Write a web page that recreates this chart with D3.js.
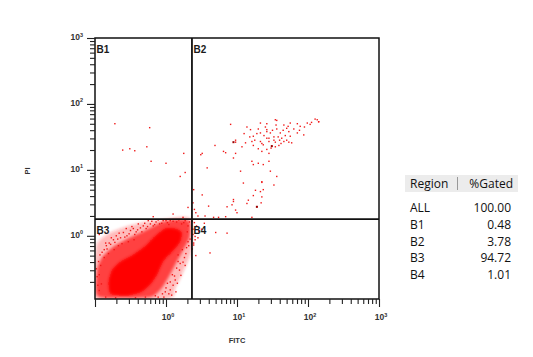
<!DOCTYPE html>
<html><head><meta charset="utf-8">
<script src="https://cdn.jsdelivr.net/npm/d3@7/dist/d3.min.js"></script>
<style>body{margin:0;background:#fff}svg{display:block}</style>
</head><body>
<svg id="c" width="533" height="357"></svg>
<script>
// ---- data (log10 FITC, log10 PI) ----
const xDomain = [0.1, 1000];
const yDomain = [0.11, 1000];
const majorTicks = [0.1, 1, 10, 100, 1000];
const gateFITC = 2.32;
const gatePI = 1.79;
const quadrantNames = ["B1", "B2", "B3", "B4"];
const tableRegions = ["ALL", "B1", "B2", "B3", "B4"];
const tableGated = ["100.00", "0.48", "3.78", "94.72", "1.01"];
const axisTitleX = "FITC";
const axisTitleY = "PI";

// density contours of the main (B3) population
const densityOuter = [[-0.99,-0.95],[-0.99,-0.21],[-0.93,-0.06],[-0.76,0.06],[-0.53,0.15],[-0.29,0.21],[-0.08,0.24],[0.34,0.26],[0.36,-0.21],[0.24,-0.55],[0.13,-0.79],[0.03,-0.95]];
const densityMid = [[-0.97,-0.91],[-0.97,-0.52],[-0.90,-0.33],[-0.76,-0.18],[-0.57,-0.06],[-0.39,0.03],[-0.22,0.12],[-0.05,0.21],[0.13,0.24],[0.29,0.24],[0.34,0.18],[0.33,-0.03],[0.23,-0.24],[0.13,-0.44],[0.03,-0.64],[-0.08,-0.82],[-0.22,-0.93],[-0.64,-0.94]];
const densityCore = [[-0.78,-0.88],[-0.81,-0.70],[-0.76,-0.52],[-0.64,-0.39],[-0.47,-0.29],[-0.29,-0.15],[-0.15,0.00],[-0.01,0.11],[0.13,0.11],[0.22,0.05],[0.20,-0.09],[0.09,-0.24],[-0.04,-0.39],[-0.12,-0.58],[-0.22,-0.74],[-0.36,-0.86],[-0.57,-0.91]];

// fringe events around the main population
const clusterEvents = [[-0.95,-0.39],[-0.93,-0.29],[-0.87,-0.21],[-0.84,-0.15],[-0.80,-0.11],[-0.74,-0.06],[-0.70,0.00],[-0.64,-0.03],[-0.60,0.05],[-0.55,0.00],[-0.50,0.08],[-0.46,0.11],[-0.42,0.06],[-0.36,0.12],[-0.32,0.15],[-0.28,0.11],[-0.22,0.18],[-0.18,0.15],[-0.14,0.21],[-0.09,0.18],[-0.04,0.23],[0.02,0.20],[0.06,0.23],[-0.87,-0.33],[-0.81,-0.27],[-0.73,-0.21],[-0.67,-0.15],[-0.62,-0.12],[-0.53,-0.09],[-0.45,-0.06],[-0.94,-0.59],[-0.91,-0.73],[-0.94,-0.83],[-0.77,-0.03],[-0.56,0.11],[-0.39,0.18],[-0.25,0.23],[0.15,0.21],[0.22,0.18],[0.27,0.23],[0.31,0.15],[0.17,-0.29],[0.23,-0.21],[0.29,-0.18],[0.26,-0.33],[0.15,-0.49],[0.20,-0.42],[0.09,-0.59],[0.06,-0.70],[0.00,-0.79],[-0.05,-0.88],[-0.11,-0.93],[0.06,-0.82],[0.13,-0.67],[0.31,-0.09],[0.30,0.06],[0.17,-0.39],[-0.01,-0.85],[-0.15,-0.91],[-0.29,-0.93],[-0.43,-0.94],[-0.71,-0.94],[-0.85,-0.93],[-0.94,0.02],[-0.85,-0.11],
[-0.92,-0.45],[-0.90,-0.25],[-0.83,-0.20],[-0.78,-0.13],[-0.72,-0.10],[-0.68,-0.05],[-0.66,0.04],[-0.58,-0.02],[-0.52,0.03],[-0.48,0.14],[-0.44,0.02],[-0.40,0.09],[-0.34,0.06],[-0.30,0.19],[-0.26,0.14],[-0.20,0.22],[-0.16,0.17],[-0.11,0.24],[-0.06,0.19],[0.00,0.23],[0.04,0.17],[0.10,0.22],[0.18,0.24],[0.25,0.20],[0.33,0.21],[-0.97,-0.62],[-0.96,-0.75],[-0.98,-0.50],
[0.32,-0.15],[0.28,-0.27],[0.24,-0.40],[0.19,-0.52],[0.12,-0.61],[0.10,-0.75],[0.04,-0.88],[-0.03,-0.93],[0.21,-0.60],[0.16,-0.72],[0.27,-0.45],[0.34,-0.05],[0.08,-0.90],[0.14,-0.85],[0.02,-0.72]];

// sparse events in B1, B2, B4
const sparseEvents = [[-0.72,1.70],[-0.23,1.64],[-0.61,1.30],[-0.51,1.32],[-0.44,1.29],[-0.27,1.35],[-0.21,1.13],[0.00,1.10],[0.25,1.25],[0.27,0.96],[0.20,0.90],[0.31,0.43],[0.24,0.28],[0.10,0.33],[-0.18,0.29],
[0.91,1.69],[1.14,1.65],[1.19,1.61],[1.33,1.71],[1.42,1.70],[1.56,1.75],[1.66,1.68],[1.75,1.71],[1.85,1.70],[1.99,1.71],[2.03,1.69],[2.13,1.76],[2.15,1.73],[1.42,1.61],[1.56,1.62],[1.70,1.63],[1.89,1.66],[1.33,1.56],[1.47,1.56],[1.61,1.56],[1.73,1.58],[1.85,1.56],[1.94,1.53],[1.23,1.51],[1.42,1.48],[1.52,1.50],[1.63,1.48],[1.75,1.51],[1.21,1.43],[1.33,1.43],[1.45,1.43],[1.54,1.42],[1.66,1.43],[1.73,1.42],[1.77,1.41],[1.12,1.41],[1.07,1.35],[1.23,1.37],[1.37,1.38],[1.49,1.36],[1.59,1.37],[1.30,1.32],[1.42,1.31],[1.54,1.35],[1.35,1.28],[1.45,1.25],[0.98,1.45],[0.98,1.42],[0.84,1.26],[0.69,1.37],[0.51,1.25],[0.98,1.25],[0.95,1.18],[1.21,1.13],[1.30,1.10],[1.37,1.08],[1.45,1.13],[1.23,1.08],[0.58,1.03],[1.05,0.98],[1.47,0.98],[1.35,0.82],[1.52,0.77],[1.56,0.90],[1.09,0.80],[1.37,0.70],[1.33,0.67],[1.26,0.69],[1.23,0.61],[1.16,0.54],[1.35,0.59],[1.34,0.50],[1.14,0.49],[1.28,0.44],[0.95,0.55],[0.93,0.47],[0.86,0.44],[0.98,0.39],[1.00,0.35],[0.67,0.28],[0.74,0.28],[0.51,0.62],[1.21,0.28],[0.39,0.70],[0.49,1.23],[0.81,1.28],[0.95,0.52],[1.35,0.81],[1.54,1.76],[2.10,1.77],[2.15,1.73],
[1.28,1.55],[1.38,1.52],[1.50,1.60],[1.60,1.45],[1.68,1.52],[1.80,1.62],[1.55,1.68],[1.40,1.65],[1.25,1.45],[1.45,1.48],[1.62,1.40],[1.70,1.45],[1.35,1.40],[1.48,1.33],[1.58,1.50],[1.88,1.60],[1.95,1.65],[2.05,1.72],[1.18,1.50],[1.30,1.62],[1.65,1.60],[1.52,1.45],[1.42,1.58],[1.72,1.66],[1.10,1.55],
[0.40,0.40],[0.45,0.30],[0.42,0.35],[0.55,0.30],[0.60,0.45],[0.38,0.50],[0.84,0.29],
[0.41,-0.01],[0.46,0.07],[0.62,-0.26],[0.54,0.19],[0.39,-0.11],[0.86,0.04],[0.41,-0.06],[0.39,-0.14],[0.38,0.10],[0.40,0.20],[0.43,0.15],[0.37,-0.20],[0.45,-0.03],[0.50,0.10],[0.38,0.02],[0.42,-0.30],[0.70,0.05],[0.37,0.22]];
const darkEvents = [[1.28,0.44],[1.49,1.36],[0.95,1.42]];

// ---- drawing ----
const svg = d3.select("#c");
const x = d3.scaleLog().domain(xDomain).range([95, 379]);
const y = d3.scaleLog().domain(yDomain).range([299, 38]);
const px = d => x(Math.pow(10, d[0]));
const py = d => y(Math.pow(10, d[1]));

const defs = svg.append("defs");
defs.append("clipPath").attr("id", "plotclip").append("rect")
  .attr("x", x(xDomain[0])).attr("y", y(yDomain[1]))
  .attr("width", x(xDomain[1]) - x(xDomain[0])).attr("height", y(yDomain[0]) - y(yDomain[1]));
defs.append("filter").attr("id", "soft").attr("x", "-20%").attr("y", "-20%").attr("width", "140%").attr("height", "140%")
  .append("feGaussianBlur").attr("stdDeviation", 1.8);

const plot = svg.append("g").attr("clip-path", "url(#plotclip)");
const dens = plot.append("g").attr("filter", "url(#soft)");
const line = d3.line().x(px).y(py).curve(d3.curveCardinalClosed.tension(0.3));
dens.append("path").attr("d", line(densityOuter)).attr("fill", "#ff2020").attr("fill-opacity", 0.3);
dens.append("path").attr("d", line(densityMid)).attr("fill", "#ff1010").attr("fill-opacity", 0.7);
dens.append("path").attr("d", line(densityCore)).attr("fill", "#ff0000");

plot.selectAll("rect.ev").data(clusterEvents.concat(sparseEvents)).join("rect")
  .attr("class", "ev").attr("x", d => px(d) - 0.7).attr("y", d => py(d) - 0.7)
  .attr("width", 1.4).attr("height", 1.4).attr("fill", "#f01818");
plot.selectAll("rect.dk").data(darkEvents).join("rect")
  .attr("class", "dk").attr("x", d => px(d) - 1).attr("y", d => py(d) - 1)
  .attr("width", 2).attr("height", 2).attr("fill", "#900");

// quadrant gates
const gx = x(gateFITC), gy = y(gatePI);
svg.append("line").attr("x1", gx).attr("x2", gx).attr("y1", y(yDomain[1])).attr("y2", y(yDomain[0]))
  .attr("stroke", "#111").attr("stroke-width", 1.8);
svg.append("line").attr("x1", x(xDomain[0])).attr("x2", x(xDomain[1])).attr("y1", gy).attr("y2", gy)
  .attr("stroke", "#111").attr("stroke-width", 1.8);

// frame
svg.append("rect").attr("x", x(xDomain[0])).attr("y", y(yDomain[1]))
  .attr("width", x(xDomain[1]) - x(xDomain[0])).attr("height", y(yDomain[0]) - y(yDomain[1]))
  .attr("fill", "none").attr("stroke", "#111").attr("stroke-width", 1.5);

// quadrant labels
const qpos = [[xDomain[0], yDomain[1]], [gateFITC, yDomain[1]], [xDomain[0], gatePI], [gateFITC, gatePI]];
svg.selectAll("text.q").data(quadrantNames).join("text").attr("class", "q")
  .attr("x", (d, i) => x(qpos[i][0]) + 1.5)
  .attr("y", (d, i) => y(qpos[i][1]) + 14.5)
  .attr("font-family", "Liberation Sans, Arial, sans-serif").attr("font-weight", "bold")
  .attr("font-size", 10).attr("fill", "#1a1a1a").text(d => d);

// tick values
function allTicks(dom) {
  const out = [];
  for (let e = -1; e <= 3; e++) for (let m = 1; m <= 9; m++) {
    const v = m * Math.pow(10, e);
    if (v >= dom[0] * 0.999 && v <= dom[1] * 1.001) out.push(v);
  }
  return out;
}
const isMajor = v => majorTicks.some(t => Math.abs(v / t - 1) < 1e-6);
const fmtExp = v => Math.round(Math.log10(v));

const ya = svg.append("g").attr("transform", `translate(${x(xDomain[0])},0)`)
  .call(d3.axisLeft(y).tickValues(allTicks(yDomain)).tickFormat("").tickSizeOuter(0));
ya.select(".domain").remove();
ya.selectAll(".tick line").attr("x2", d => isMajor(d) ? -8 : -5).attr("stroke", "#222").attr("stroke-width", 1.1);

const xa = svg.append("g").attr("transform", `translate(0,${y(yDomain[0])})`)
  .call(d3.axisBottom(x).tickValues(allTicks(xDomain)).tickFormat("").tickSizeOuter(0));
xa.select(".domain").remove();
xa.selectAll(".tick line").attr("y2", d => isMajor(d) ? 8 : 5).attr("stroke", "#222").attr("stroke-width", 1.1);

const labFont = "Liberation Sans, Arial, sans-serif";
// y labels
const yl = svg.selectAll("text.yl").data(majorTicks.filter(v => v >= 1)).join("text").attr("class", "yl")
  .attr("x", x(xDomain[0]) - 12).attr("y", d => y(d) + 2)
  .attr("text-anchor", "end").attr("font-family", labFont).attr("font-weight", "bold")
  .attr("font-size", 8.5).attr("fill", "#333");
yl.append("tspan").text("10");
yl.append("tspan").attr("dy", -3.5).attr("font-size", 5.5).text(d => fmtExp(d));

// x labels
const xl = svg.selectAll("text.xl").data(majorTicks.filter(v => v >= 1)).join("text").attr("class", "xl")
  .attr("x", d => x(d) + 2).attr("y", 320)
  .attr("text-anchor", "middle").attr("font-family", labFont).attr("font-weight", "bold")
  .attr("font-size", 8.5).attr("fill", "#333");
xl.append("tspan").text("10");
xl.append("tspan").attr("dy", -3.5).attr("font-size", 5.5).text(d => fmtExp(d));

// axis titles
svg.append("text").attr("x", 237).attr("y", 343).attr("text-anchor", "middle")
  .attr("font-family", labFont).attr("font-weight", "bold").attr("font-size", 7.5).attr("fill", "#333").text(axisTitleX);
svg.append("text").attr("transform", "translate(29.5,171) rotate(-90)").attr("text-anchor", "middle")
  .attr("font-family", labFont).attr("font-weight", "bold").attr("font-size", 7.5).attr("fill", "#333").text(axisTitleY);

// statistics table
const tf = "Open Sans, Noto Sans, sans-serif";
const tbl = svg.append("g");
tbl.append("rect").attr("x", 405).attr("y", 175).attr("width", 113).attr("height", 17).attr("fill", "#ececec");
tbl.append("line").attr("x1", 457.5).attr("x2", 457.5).attr("y1", 177).attr("y2", 190).attr("stroke", "#999");
tbl.append("text").attr("x", 410).attr("y", 187.5).attr("font-family", tf).attr("font-size", 12).attr("fill", "#111").text("Region");
tbl.append("text").attr("x", 513).attr("y", 187.5).attr("text-anchor", "end").attr("font-family", tf).attr("font-size", 12).attr("fill", "#111").text("%Gated");
tbl.selectAll("text.rn").data(tableRegions).join("text").attr("class", "rn")
  .attr("x", 410).attr("y", (d, i) => 212 + i * 16.8).attr("font-family", tf).attr("font-size", 12).attr("fill", "#111").text(d => d);
tbl.selectAll("text.rv").data(tableGated).join("text").attr("class", "rv")
  .attr("x", 511).attr("y", (d, i) => 212 + i * 16.8).attr("text-anchor", "end").attr("font-family", tf).attr("font-size", 12).attr("fill", "#111").text(d => d);
</script>
</body></html>
